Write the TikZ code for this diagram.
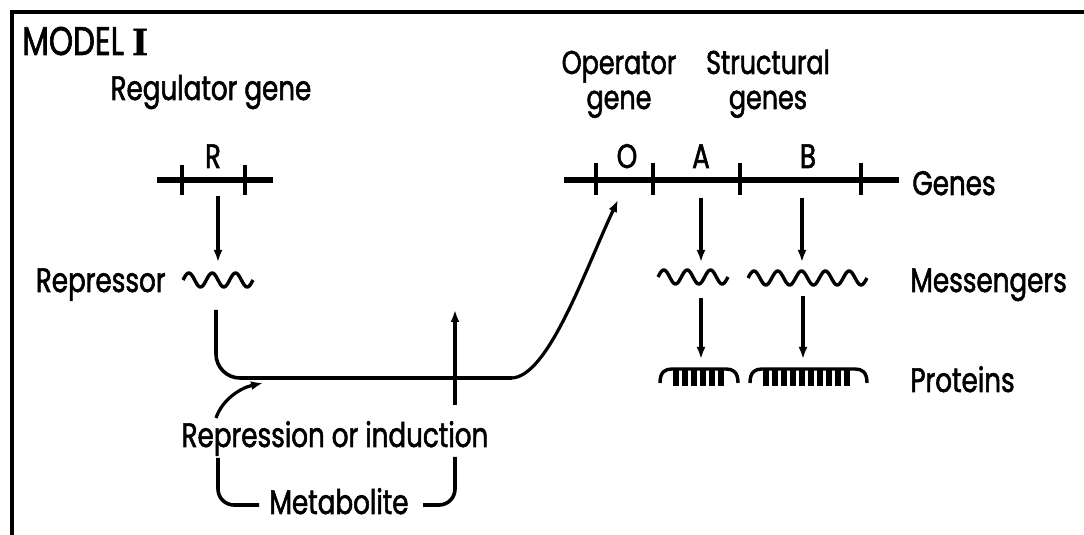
\documentclass[tikz,border=0pt]{standalone}
\usepackage{fontspec}
\setmainfont[FakeStretch=0.77,FakeBold=1.6]{Poppins}
\newfontfamily\romanI[FakeBold=1.5]{Liberation Serif}
\usetikzlibrary{arrows.meta}
\begin{document}
\begin{tikzpicture}[x=0.5pt,y=-0.5pt,
  lbl/.style={inner sep=0pt, font=\fontsize{17}{15}\selectfont},
  twoline/.style={inner sep=0pt, align=center, font=\fontsize{16.5}{17.5}\selectfont},
  big/.style={inner sep=0pt, font=\fontsize{20}{22}\selectfont},
  genebar/.style={line width=2.6pt},
  tickmark/.style={line width=1.6pt},
  arr/.style={line width=1.6pt, -{Latex[length=6pt,width=4.5pt]}},
  conn/.style={line width=1.8pt},
  wave/.style={line width=1.7pt},
  tooth/.style={line width=2.6pt},
]
\useasboundingbox (0,0) rectangle (1084,535);
% frame
\draw[line width=2pt] (12,535) -- (12,12) -- (1084,12);

% texts
\node[big, anchor=base west] (model) at (22,55) {MODEL {\romanI\bfseries I}};
\node[lbl, anchor=base] (reglbl) at (211,100) {Regulator gene};
\node[lbl, anchor=base] (R) at (213,168) {R};
\node[lbl, anchor=base east] (replbl) at (166,292) {Repressor};
\node[lbl, anchor=base] (repind) at (335,447) {Repression or induction};
\node[lbl, anchor=base] (metab) at (339,514) {Metabolite};
\node[twoline, anchor=base] (oplbl) at (619,109) {Operator\\gene};
\node[twoline, anchor=base] (stlbl) at (768,109) {Structural\\genes};
\node[lbl, anchor=base] (O) at (627,168) {O};
\node[lbl, anchor=base] (A) at (701,168) {A};
\node[lbl, anchor=base] (B) at (808,168) {B};
\node[lbl, anchor=base west] (genes) at (912,195) {Genes};
\node[lbl, anchor=base west] (mess) at (910,292) {Messengers};
\node[lbl, anchor=base west] (prot) at (910,392) {Proteins};

% regulator gene
\draw[genebar] (157,180) -- (273,180);
\foreach \x in {182,245} \draw[tickmark] (\x,165) -- (\x,195);
% operator / structural genes
\draw[genebar] (564,180) -- (899,180);
\foreach \x in {596,653,740,861} \draw[tickmark] (\x,163) -- (\x,195);

% coordinates
\coordinate (rg) at (218,196);
\coordinate (rep) at (218,262);
\coordinate (repout) at (216,310);
\coordinate (ocall) at (618,200);
\coordinate (gA) at (701,198);
\coordinate (mAin) at (701,262);
\coordinate (gB) at (802,198);
\coordinate (mBin) at (802,262);
\coordinate (mAout) at (701,298);
\coordinate (pA) at (701,359);
\coordinate (mBout) at (803,296);
\coordinate (pB) at (803,359);
\coordinate (indlow) at (455,405);
\coordinate (indup) at (455,310);
\coordinate (rstart) at (216,418);
\coordinate (rend) at (263,383);

% waves
\draw[wave] plot[domain=0:3, samples=90] ({183+\x*70/3}, {280-7*sin(360*\x)});
\draw[wave] plot[domain=0:3, samples=90] ({658+\x*70/3}, {277-7*sin(360*\x)});
\draw[wave] plot[domain=0:5, samples=150] ({748+\x*119/5}, {278-7*sin(360*\x)});

% proteins
\draw[wave] (660,383) .. controls (660,372) and (665,369) .. (672,369) -- (726,369) .. controls (733,369) and (738,372) .. (738,383);
\foreach \x in {676,685,694,703,712,721} \draw[tooth] (\x,369) -- (\x,386);
\draw[wave] (750,383) .. controls (750,372) and (755,369) .. (762,369) -- (855,369) .. controls (862,369) and (867,372) .. (867,383);
\foreach \x in {766,775,784,793,802,811,820,829,838,847} \draw[tooth] (\x,369) -- (\x,386);

% arrows
\draw[arr] (rg) -- (rep);
\draw[arr] (gA) -- (mAin);
\draw[arr] (gB) -- (mBin);
\draw[arr] (mAout) -- (pA);
\draw[arr] (mBout) -- (pB);
\draw[arr] (indlow) -- (indup);
\draw[arr] (rstart) .. controls (222,400) and (240,388) .. (rend);
\draw[conn, rounded corners=12pt] (repout) |- (512,378);
\draw[arr] (511,378) .. controls (548,378) and (585,270) .. (ocall);

% metabolite bracket
\draw[conn, rounded corners=8pt] (218,458) |- (259,505);
\draw[conn, rounded corners=8pt] (423,505) -| (455,457);
\end{tikzpicture}
\end{document}
